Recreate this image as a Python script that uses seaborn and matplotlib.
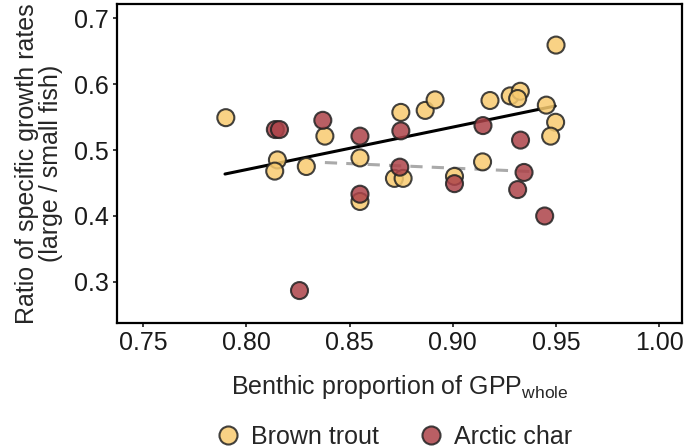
import numpy as np
import pandas as pd
import matplotlib
matplotlib.use("Agg")
import matplotlib.pyplot as plt
from matplotlib.lines import Line2D
import seaborn as sns

# Brown trout points (benthic proportion of GPP, growth-rate ratio)
trout_x = [0.790, 0.838, 0.815, 0.8137, 0.829, 0.855, 0.8748, 0.8866, 0.8914, 0.8717, 0.8759,
           0.855, 0.950, 0.918, 0.9278, 0.9327, 0.9314, 0.9453, 0.9498, 0.9474, 0.9144, 0.9008]
trout_y = [0.549, 0.521, 0.485, 0.468, 0.475, 0.488, 0.557, 0.560, 0.576, 0.457, 0.457,
           0.422, 0.659, 0.575, 0.582, 0.589, 0.578, 0.568, 0.542, 0.521, 0.482, 0.460]

# Arctic char points
char_x = [0.8140, 0.8160, 0.837, 0.855, 0.8748, 0.8743, 0.855, 0.8257, 0.9146, 0.9328,
          0.9008, 0.9345, 0.9314, 0.9445]
char_y = [0.531, 0.531, 0.545, 0.521, 0.529, 0.474, 0.433, 0.287, 0.537, 0.515,
          0.449, 0.466, 0.440, 0.400]

# fitted lines
trout_fit_x = [0.7896, 0.9496]
trout_fit_y = [0.4636, 0.5667]
char_fit_x = [0.838, 0.9406]
char_fit_y = [0.481, 0.467]

species = ["Brown trout", "Arctic char"]
colors = {"Brown trout": "#F8CB70", "Arctic char": "#AD4349"}

df = pd.DataFrame({
    "gpp": trout_x + char_x,
    "ratio": trout_y + char_y,
    "species": ["Brown trout"] * len(trout_x) + ["Arctic char"] * len(char_x),
})

sns.set_style("white")
plt.rcParams["font.family"] = ["Liberation Sans", "DejaVu Sans"]
plt.rcParams["mathtext.fontset"] = "custom"
plt.rcParams["mathtext.rm"] = "Liberation Sans"
plt.rcParams["mathtext.it"] = "Liberation Sans:italic"

fig = plt.figure(figsize=(6.85, 4.48), dpi=100)
ax = fig.add_axes([0.1712, 0.2797, 0.824, 0.7107])

sns.lineplot(x=trout_fit_x, y=trout_fit_y, ax=ax, color="black", linewidth=2.2)
sns.lineplot(x=char_fit_x, y=char_fit_y, ax=ax, color="#AAAAAA", linewidth=2.2,
             linestyle=(0, (4, 3)))

sns.scatterplot(data=df, x="gpp", y="ratio", hue="species", hue_order=species,
                palette=colors, s=150, alpha=0.85, edgecolor="#222222", linewidth=1.5,
                legend=False, ax=ax, zorder=3)

ax.set_xlim(0.7374, 1.0109)
ax.set_ylim(0.2383, 0.7208)
ax.set_xticks([0.75, 0.80, 0.85, 0.90, 0.95, 1.00])
ax.set_xticklabels(["0.75", "0.80", "0.85", "0.90", "0.95", "1.00"])
ax.set_yticks([0.3, 0.4, 0.5, 0.6, 0.7])
ax.set_yticklabels(["0.3", "0.4", "0.5", "0.6", "0.7"])
ax.tick_params(axis="both", labelsize=18, colors="#1a1a1a", length=3, width=1.2,
               direction="out", bottom=True, left=True, pad=3)
for sp in ax.spines.values():
    sp.set_visible(True)
    sp.set_color("black")
    sp.set_linewidth(1.6)

ax.set_xlabel(r"Benthic proportion of GPP$_{\mathrm{whole}}$", fontsize=18, labelpad=13)
ax.set_ylabel("Ratio of specific growth rates\n(large / small fish)", fontsize=18,
              linespacing=1.0, labelpad=8)

handles = [Line2D([], [], marker="o", linestyle="", markersize=13,
                  markerfacecolor=colors[s], markeredgecolor="#222222",
                  markeredgewidth=1.5, alpha=0.85) for s in species]
fig.legend(handles, species, loc="center", bbox_to_anchor=(0.575, 0.025), ncol=2,
           frameon=False, fontsize=18, handletextpad=0.4, columnspacing=1.6,
           handlelength=1.0)

fig.savefig("out.png", dpi=100)
